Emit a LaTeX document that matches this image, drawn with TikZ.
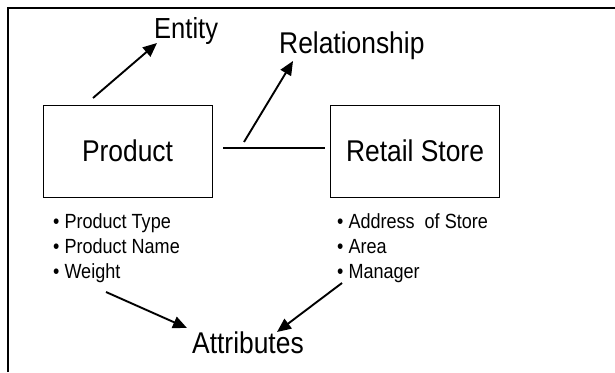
\documentclass[tikz,border=0pt]{standalone}
\usepackage{fontspec}
\newfontfamily\condfont[FakeStretch=0.88]{Liberation Sans}
\usetikzlibrary{arrows.meta}
\begin{document}
\begin{tikzpicture}[x=1pt,y=-1pt,
  lbl/.style={inner sep=0pt,anchor=base west,font=\condfont\fontsize{30}{32}\selectfont},
  boxnode/.style={draw,line width=0.8pt,minimum width=169pt,minimum height=92pt,inner sep=0pt,font=\condfont\fontsize{30}{32}\selectfont},
  item/.style={inner sep=0pt,anchor=base west,font=\condfont\fontsize{20.5}{22}\selectfont},
  arr/.style={line width=1.9pt,-{Triangle[length=14pt,width=12pt]}},
  link/.style={line width=1.3pt}]
\useasboundingbox (0,0) rectangle (615,372);
% frame
\draw[line width=1.3pt] (8,372) -- (8,8) -- (615,8);
% nodes
\node[lbl,font=\condfont\fontsize{29}{31}\selectfont] (entity) at (154,38) {Entity};
\node[lbl] (rel) at (279,53) {Relationship};
\node[boxnode] (prod) at (127.5,151) {Product};
\node[boxnode] (store) at (415,151) {Retail Store};
\node[lbl] (attr) at (192,353) {Attributes};
\node[item] (p1) at (53,228) {• Product Type};
\node[item] (p2) at (53,253) {• Product Name};
\node[item] (p3) at (53,278) {• Weight};
\node[item] (s1) at (337,228) {• Address\ \ of Store};
\node[item] (s2) at (337,253) {• Area};
\node[item] (s3) at (337,278) {• Manager};
% free ends
\coordinate (entTip) at (157,43);
\coordinate (entTail) at (93,98);
\coordinate (relTip) at (293,61);
\coordinate (relTail) at (244,142);
\coordinate (wTail) at (106,292);
\coordinate (wTip) at (187,328);
\coordinate (mTail) at (342,283);
\coordinate (mTip) at (277,332);
% connectors
\draw[link] ([xshift=11pt,yshift=3pt]prod.east) -- ([xshift=-5pt,yshift=3pt]store.west);
\draw[arr] (entTail) -- (entTip);
\draw[arr] (relTail) -- (relTip);
\draw[arr] (wTail) -- (wTip);
\draw[arr] (mTail) -- (mTip);
\end{tikzpicture}
\end{document}
